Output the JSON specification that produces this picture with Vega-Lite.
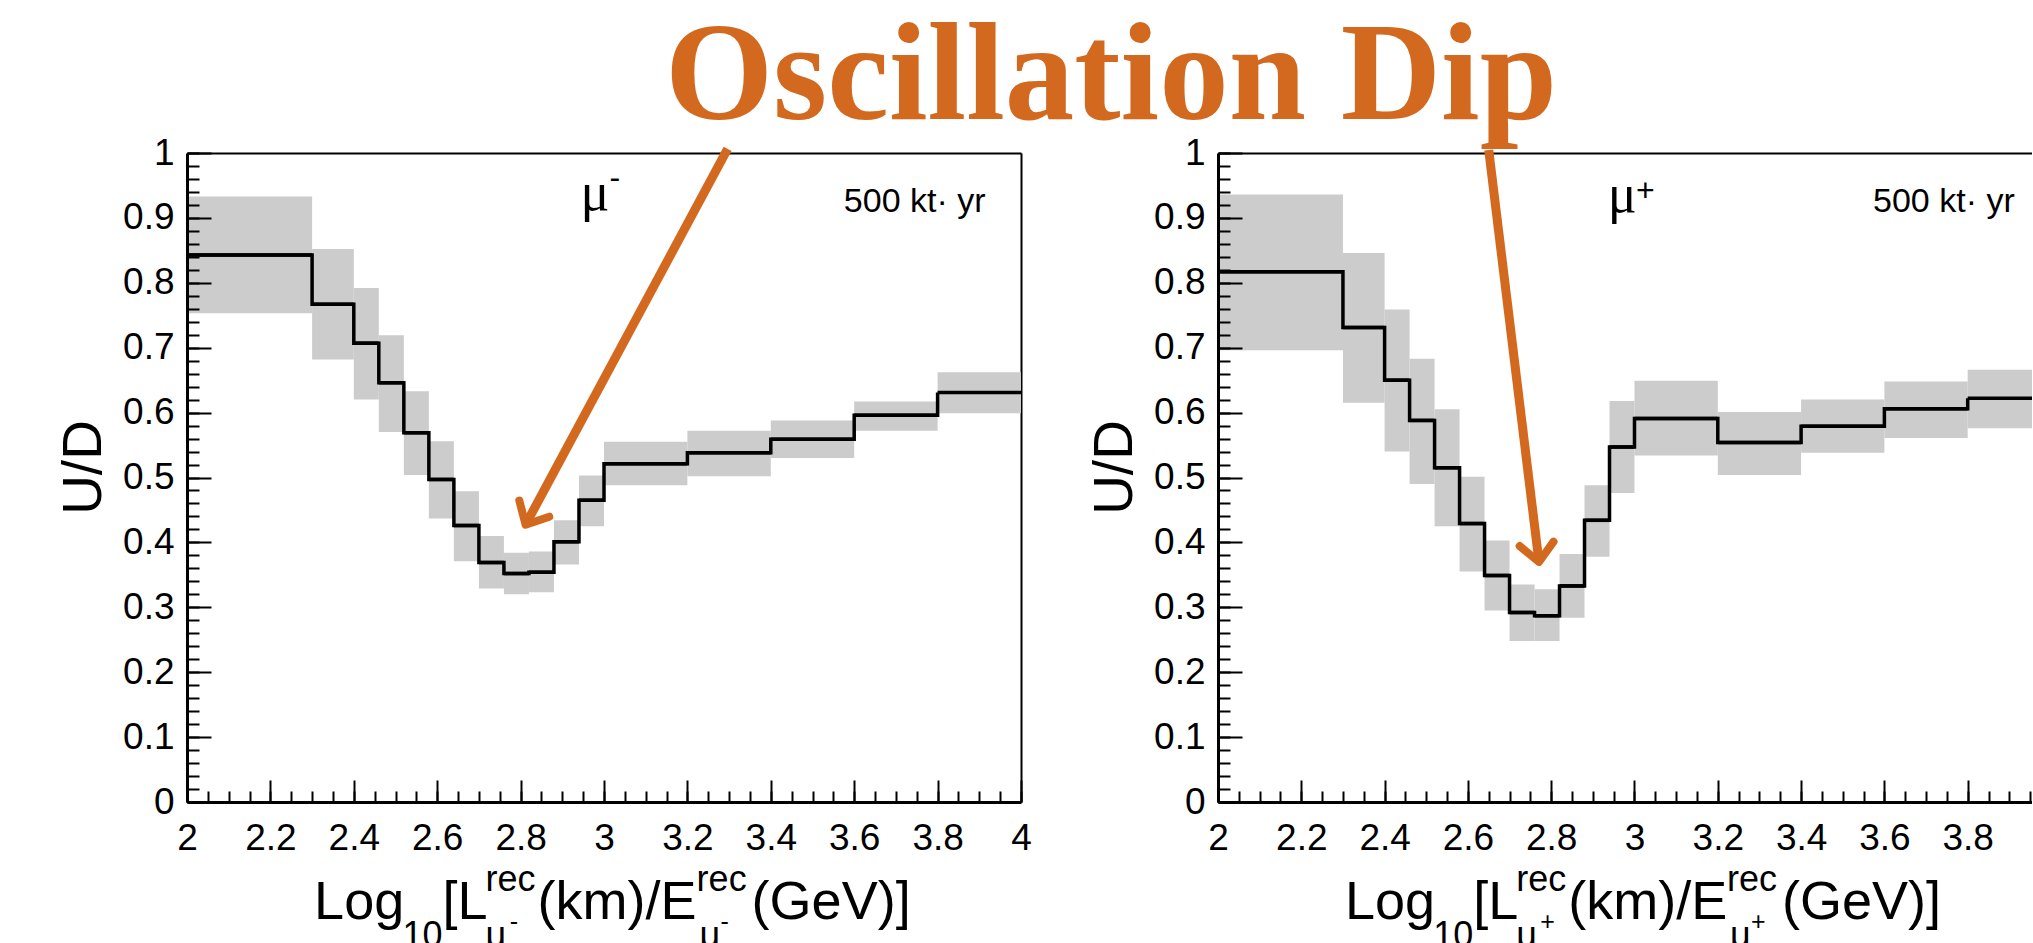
{
  "$schema": "https://vega.github.io/schema/vega-lite/v6.json",
  "usermeta": {"embedOptions": {"actions": false}},
  "background": "white",
  "autosize": {"type": "pad"},
  "padding": {"left": 56, "top": 8, "right": 0, "bottom": 0},
  "title": {
    "text": "Oscillation Dip",
    "font": "Liberation Serif",
    "fontSize": 139,
    "fontWeight": "bold",
    "color": "#D2691E",
    "anchor": "start",
    "frame": "group",
    "baseline": "alphabetic",
    "offset": -124,
    "dx": 478
  },
  "spacing": 197,
  "bounds": "flush",
  "config": {
    "view": {"stroke": null},
    "axis": {"grid": false},
    "text": {"font": "Liberation Sans", "color": "black"}
  },
  "datasets": {
    "minus": [
      {"x0": 2.0, "x1": 2.3, "v": 0.843, "lo": 0.753, "hi": 0.933},
      {"x0": 2.3, "x1": 2.4, "v": 0.767, "lo": 0.682, "hi": 0.852},
      {"x0": 2.4, "x1": 2.46, "v": 0.707, "lo": 0.620, "hi": 0.792},
      {"x0": 2.46, "x1": 2.52, "v": 0.646, "lo": 0.570, "hi": 0.719},
      {"x0": 2.52, "x1": 2.58, "v": 0.569, "lo": 0.504, "hi": 0.633},
      {"x0": 2.58, "x1": 2.64, "v": 0.497, "lo": 0.437, "hi": 0.556},
      {"x0": 2.64, "x1": 2.70, "v": 0.426, "lo": 0.371, "hi": 0.479},
      {"x0": 2.70, "x1": 2.76, "v": 0.369, "lo": 0.329, "hi": 0.410},
      {"x0": 2.76, "x1": 2.82, "v": 0.352, "lo": 0.320, "hi": 0.384},
      {"x0": 2.82, "x1": 2.88, "v": 0.354, "lo": 0.323, "hi": 0.386},
      {"x0": 2.88, "x1": 2.94, "v": 0.401, "lo": 0.366, "hi": 0.434},
      {"x0": 2.94, "x1": 3.0, "v": 0.465, "lo": 0.425, "hi": 0.503},
      {"x0": 3.0, "x1": 3.2, "v": 0.521, "lo": 0.488, "hi": 0.555},
      {"x0": 3.2, "x1": 3.4, "v": 0.538, "lo": 0.502, "hi": 0.572},
      {"x0": 3.4, "x1": 3.6, "v": 0.559, "lo": 0.530, "hi": 0.588},
      {"x0": 3.6, "x1": 3.8, "v": 0.596, "lo": 0.572, "hi": 0.617},
      {"x0": 3.8, "x1": 4.0, "v": 0.631, "lo": 0.599, "hi": 0.662}
    ],
    "plus": [
      {"x0": 2.0, "x1": 2.3, "v": 0.817, "lo": 0.696, "hi": 0.936},
      {"x0": 2.3, "x1": 2.4, "v": 0.731, "lo": 0.615, "hi": 0.846},
      {"x0": 2.4, "x1": 2.46, "v": 0.650, "lo": 0.540, "hi": 0.759},
      {"x0": 2.46, "x1": 2.52, "v": 0.588, "lo": 0.490, "hi": 0.683},
      {"x0": 2.52, "x1": 2.58, "v": 0.515, "lo": 0.425, "hi": 0.605},
      {"x0": 2.58, "x1": 2.64, "v": 0.429, "lo": 0.355, "hi": 0.501},
      {"x0": 2.64, "x1": 2.70, "v": 0.349, "lo": 0.295, "hi": 0.403},
      {"x0": 2.70, "x1": 2.76, "v": 0.292, "lo": 0.248, "hi": 0.335},
      {"x0": 2.76, "x1": 2.82, "v": 0.287, "lo": 0.248, "hi": 0.328},
      {"x0": 2.82, "x1": 2.88, "v": 0.333, "lo": 0.284, "hi": 0.382},
      {"x0": 2.88, "x1": 2.94, "v": 0.434, "lo": 0.378, "hi": 0.488},
      {"x0": 2.94, "x1": 3.0, "v": 0.547, "lo": 0.476, "hi": 0.618},
      {"x0": 3.0, "x1": 3.2, "v": 0.591, "lo": 0.534, "hi": 0.649},
      {"x0": 3.2, "x1": 3.4, "v": 0.554, "lo": 0.504, "hi": 0.601},
      {"x0": 3.4, "x1": 3.6, "v": 0.579, "lo": 0.538, "hi": 0.620},
      {"x0": 3.6, "x1": 3.8, "v": 0.606, "lo": 0.561, "hi": 0.648},
      {"x0": 3.8, "x1": 4.0, "v": 0.622, "lo": 0.576, "hi": 0.666}
    ],
    "arrowMinus": [{"xs": 3.2964, "ys": 1.0062, "xe": 2.812, "ye": 0.4273}],
    "arrowPlus": [{"xs": 2.650, "ys": 1.0046, "xe": 2.7707, "ye": 0.3698}],
    "muMinus": [{"x": 2.9439, "y": 0.912, "t": "μ"}],
    "supMinus": [{"x": 3.0134, "y": 0.9615, "t": "-"}],
    "muPlus": [{"x": 2.9357, "y": 0.909, "t": "μ"}],
    "supPlus": [{"x": 3.0038, "y": 0.9415, "t": "+"}],
    "expMinus": [{"x": 3.915, "y": 0.909, "t": "500 kt· yr"}],
    "expPlus": [{"x": 3.913, "y": 0.909, "t": "500 kt· yr"}],
    "xtMain": [
      {"x": 2.3048, "y": -0.1803, "t": "Log"},
      {"x": 2.6129, "y": -0.1803, "t": "["},
      {"x": 2.6489, "y": -0.1803, "t": "L"},
      {"x": 2.8408, "y": -0.1803, "t": "(km)/E"},
      {"x": 3.3540, "y": -0.1803, "t": "(GeV)]"}
    ],
    "xtSmall": [
      {"x": 2.5170, "y": -0.2234, "t": "10"},
      {"x": 2.7161, "y": -0.1371, "t": "rec"},
      {"x": 2.7161, "y": -0.2234, "t": "μ"},
      {"x": 3.2221, "y": -0.1371, "t": "rec"},
      {"x": 3.2293, "y": -0.2234, "t": "μ"}
    ],
    "xtTinyMinus": [
      {"x": 2.7737, "y": -0.1849, "t": "-"},
      {"x": 3.2796, "y": -0.1849, "t": "-"}
    ],
    "xtTinyPlus": [
      {"x": 2.7737, "y": -0.1849, "t": "+"},
      {"x": 3.2796, "y": -0.1849, "t": "+"}
    ]
  },
  "hconcat": [
    {
      "width": 834,
      "height": 649,
      "resolve": {"axis": {"x": "independent", "y": "independent"}},
      "layer": [
        {
          "data": {"name": "minus"},
          "mark": {"type": "rect", "fill": "#cccccc", "strokeWidth": 0},
          "encoding": {
            "x": {"field": "x0", "type": "quantitative", "scale": {"domain": [2, 4], "nice": false, "zero": false},
              "axis": {"orient": "bottom", "values": [2, 2.2, 2.4, 2.6, 2.8, 3, 3.2, 3.4, 3.6, 3.8, 4], "labelExpr": "'' + datum.value", "tickSize": -22, "tickWidth": 2, "tickColor": "black", "domain": true, "domainColor": "black", "domainWidth": 3, "labelFont": "Liberation Sans", "labelFontSize": 37, "labelColor": "black", "labelPadding": 40, "labelFlush": false, "labelOverlap": false, "labelBound": false, "grid": false, "title": null, "zindex": 1}},
            "x2": {"field": "x1"},
            "y": {"field": "lo", "type": "quantitative", "scale": {"domain": [0, 1], "nice": false, "zero": false},
              "axis": {"orient": "left", "values": [0, 0.1, 0.2, 0.3, 0.4, 0.5, 0.6, 0.7, 0.8, 0.9, 1], "labelExpr": "'' + datum.value", "tickSize": -24, "tickWidth": 2, "tickColor": "black", "domain": true, "domainColor": "black", "domainWidth": 3, "labelFont": "Liberation Sans", "labelFontSize": 37, "labelColor": "black", "labelPadding": 37, "labelFlush": false, "labelOverlap": false, "labelBound": false, "grid": false, "title": "U/D", "titleFont": "Liberation Sans", "titleFontSize": 55, "titleFontWeight": "normal", "titleColor": "black", "titlePadding": 10, "titleY": 314, "zindex": 1}},
            "y2": {"field": "hi"}
          }
        },
        {
          "data": {"name": "minus"},
          "mark": {"type": "rule", "color": "black", "strokeWidth": 3.5},
          "encoding": {
            "x": {"field": "x0", "type": "quantitative",
              "axis": {"orient": "bottom", "values": [2, 2.05, 2.1, 2.15, 2.2, 2.25, 2.3, 2.35, 2.4, 2.45, 2.5, 2.55, 2.6, 2.65, 2.7, 2.75, 2.8, 2.85, 2.9, 2.95, 3, 3.05, 3.1, 3.15, 3.2, 3.25, 3.3, 3.35, 3.4, 3.45, 3.5, 3.55, 3.6, 3.65, 3.7, 3.75, 3.8, 3.85, 3.9, 3.95, 4], "tickSize": -11, "tickWidth": 2, "tickColor": "black", "labels": false, "domain": false, "grid": false, "title": null, "zindex": 1}},
            "x2": {"field": "x1"},
            "y": {"field": "v", "type": "quantitative",
              "axis": {"orient": "left", "values": [0, 0.02, 0.04, 0.06, 0.08, 0.1, 0.12, 0.14, 0.16, 0.18, 0.2, 0.22, 0.24, 0.26, 0.28, 0.3, 0.32, 0.34, 0.36, 0.38, 0.4, 0.42, 0.44, 0.46, 0.48, 0.5, 0.52, 0.54, 0.56, 0.58, 0.6, 0.62, 0.64, 0.66, 0.68, 0.7, 0.72, 0.74, 0.76, 0.78, 0.8, 0.82, 0.84, 0.86, 0.88, 0.9, 0.92, 0.94, 0.96, 0.98, 1], "tickSize": -12, "tickWidth": 2, "tickColor": "black", "labels": false, "domain": false, "grid": false, "title": null, "zindex": 1}}
          }
        },
        {
          "data": {"name": "minus"},
          "mark": {"type": "line", "interpolate": "step-after", "color": "black", "strokeWidth": 3.5},
          "encoding": {
            "x": {"field": "x0", "type": "quantitative",
              "axis": {"orient": "top", "ticks": false, "labels": false, "domain": true, "domainColor": "black", "domainWidth": 2, "grid": false, "title": null}},
            "y": {"field": "v", "type": "quantitative",
              "axis": {"orient": "right", "ticks": false, "labels": false, "domain": true, "domainColor": "black", "domainWidth": 2, "grid": false, "title": null}}
          }
        },
        {
          "data": {"name": "arrowMinus"},
          "mark": {"type": "rule", "color": "#D2691E", "strokeWidth": 9},
          "encoding": {
            "x": {"field": "xs", "type": "quantitative", "axis": null},
            "y": {"field": "ys", "type": "quantitative", "axis": null},
            "x2": {"field": "xe"},
            "y2": {"field": "ye"}
          }
        },
        {
          "data": {"name": "arrowMinus"},
          "mark": {"type": "point", "shape": "M -0.682 -0.731 L 0 0 L 0.682 -0.731", "filled": false, "stroke": "#D2691E", "strokeWidth": 8, "strokeCap": "round", "strokeJoin": "round", "size": 2500, "angle": 28.4, "opacity": 1},
          "encoding": {
            "x": {"field": "xe", "type": "quantitative", "axis": null},
            "y": {"field": "ye", "type": "quantitative", "axis": null}
          }
        },
        {
          "data": {"name": "muMinus"},
          "mark": {"type": "text", "font": "Liberation Serif", "fontSize": 54, "align": "left", "baseline": "alphabetic", "color": "black"},
          "encoding": {
            "x": {"field": "x", "type": "quantitative", "axis": null},
            "y": {"field": "y", "type": "quantitative", "axis": null},
            "text": {"field": "t"}
          }
        },
        {
          "data": {"name": "supMinus"},
          "mark": {"type": "text", "font": "Liberation Sans", "fontSize": 32, "align": "left", "baseline": "middle", "color": "black"},
          "encoding": {
            "x": {"field": "x", "type": "quantitative", "axis": null},
            "y": {"field": "y", "type": "quantitative", "axis": null},
            "text": {"field": "t"}
          }
        },
        {
          "data": {"name": "expMinus"},
          "mark": {"type": "text", "font": "Liberation Sans", "fontSize": 34, "align": "right", "baseline": "alphabetic", "color": "black"},
          "encoding": {
            "x": {"field": "x", "type": "quantitative", "axis": null},
            "y": {"field": "y", "type": "quantitative", "axis": null},
            "text": {"field": "t"}
          }
        },
        {
          "data": {"name": "xtMain"},
          "mark": {"type": "text", "font": "Liberation Sans", "fontSize": 54, "align": "left", "baseline": "alphabetic", "color": "black"},
          "encoding": {
            "x": {"field": "x", "type": "quantitative", "axis": null},
            "y": {"field": "y", "type": "quantitative", "axis": null},
            "text": {"field": "t"}
          }
        },
        {
          "data": {"name": "xtSmall"},
          "mark": {"type": "text", "font": "Liberation Sans", "fontSize": 36, "align": "left", "baseline": "alphabetic", "color": "black"},
          "encoding": {
            "x": {"field": "x", "type": "quantitative", "axis": null},
            "y": {"field": "y", "type": "quantitative", "axis": null},
            "text": {"field": "t"}
          }
        },
        {
          "data": {"name": "xtTinyMinus"},
          "mark": {"type": "text", "font": "Liberation Sans", "fontSize": 25, "align": "left", "baseline": "middle", "color": "black"},
          "encoding": {
            "x": {"field": "x", "type": "quantitative", "axis": null},
            "y": {"field": "y", "type": "quantitative", "axis": null},
            "text": {"field": "t"}
          }
        }
      ]
    },
    {
      "width": 814,
      "height": 649,
      "resolve": {"axis": {"x": "independent", "y": "independent"}},
      "layer": [
        {
          "data": {"name": "plus"},
          "mark": {"type": "rect", "fill": "#cccccc", "strokeWidth": 0, "clip": true},
          "encoding": {
            "x": {"field": "x0", "type": "quantitative", "scale": {"domain": [2, 3.9544], "nice": false, "zero": false},
              "axis": {"orient": "bottom", "values": [2, 2.2, 2.4, 2.6, 2.8, 3, 3.2, 3.4, 3.6, 3.8], "labelExpr": "'' + datum.value", "tickSize": -22, "tickWidth": 2, "tickColor": "black", "domain": true, "domainColor": "black", "domainWidth": 3, "labelFont": "Liberation Sans", "labelFontSize": 37, "labelColor": "black", "labelPadding": 40, "labelFlush": false, "labelOverlap": false, "labelBound": false, "grid": false, "title": null, "zindex": 1}},
            "x2": {"field": "x1"},
            "y": {"field": "lo", "type": "quantitative", "scale": {"domain": [0, 1], "nice": false, "zero": false},
              "axis": {"orient": "left", "values": [0, 0.1, 0.2, 0.3, 0.4, 0.5, 0.6, 0.7, 0.8, 0.9, 1], "labelExpr": "'' + datum.value", "tickSize": -24, "tickWidth": 2, "tickColor": "black", "domain": true, "domainColor": "black", "domainWidth": 3, "labelFont": "Liberation Sans", "labelFontSize": 37, "labelColor": "black", "labelPadding": 37, "labelFlush": false, "labelOverlap": false, "labelBound": false, "grid": false, "title": "U/D", "titleFont": "Liberation Sans", "titleFontSize": 55, "titleFontWeight": "normal", "titleColor": "black", "titlePadding": 10, "titleY": 314, "zindex": 1}},
            "y2": {"field": "hi"}
          }
        },
        {
          "data": {"name": "plus"},
          "mark": {"type": "rule", "color": "black", "strokeWidth": 3.5, "clip": true},
          "encoding": {
            "x": {"field": "x0", "type": "quantitative",
              "axis": {"orient": "bottom", "values": [2, 2.05, 2.1, 2.15, 2.2, 2.25, 2.3, 2.35, 2.4, 2.45, 2.5, 2.55, 2.6, 2.65, 2.7, 2.75, 2.8, 2.85, 2.9, 2.95, 3, 3.05, 3.1, 3.15, 3.2, 3.25, 3.3, 3.35, 3.4, 3.45, 3.5, 3.55, 3.6, 3.65, 3.7, 3.75, 3.8, 3.85, 3.9, 3.95], "tickSize": -11, "tickWidth": 2, "tickColor": "black", "labels": false, "domain": false, "grid": false, "title": null, "zindex": 1}},
            "x2": {"field": "x1"},
            "y": {"field": "v", "type": "quantitative",
              "axis": {"orient": "left", "values": [0, 0.02, 0.04, 0.06, 0.08, 0.1, 0.12, 0.14, 0.16, 0.18, 0.2, 0.22, 0.24, 0.26, 0.28, 0.3, 0.32, 0.34, 0.36, 0.38, 0.4, 0.42, 0.44, 0.46, 0.48, 0.5, 0.52, 0.54, 0.56, 0.58, 0.6, 0.62, 0.64, 0.66, 0.68, 0.7, 0.72, 0.74, 0.76, 0.78, 0.8, 0.82, 0.84, 0.86, 0.88, 0.9, 0.92, 0.94, 0.96, 0.98, 1], "tickSize": -12, "tickWidth": 2, "tickColor": "black", "labels": false, "domain": false, "grid": false, "title": null, "zindex": 1}}
          }
        },
        {
          "data": {"name": "plus"},
          "mark": {"type": "line", "interpolate": "step-after", "color": "black", "strokeWidth": 3.5, "clip": true},
          "encoding": {
            "x": {"field": "x0", "type": "quantitative",
              "axis": {"orient": "top", "ticks": false, "labels": false, "domain": true, "domainColor": "black", "domainWidth": 2, "grid": false, "title": null}},
            "y": {"field": "v", "type": "quantitative", "axis": null}
          }
        },
        {
          "data": {"name": "arrowPlus"},
          "mark": {"type": "rule", "color": "#D2691E", "strokeWidth": 9},
          "encoding": {
            "x": {"field": "xs", "type": "quantitative", "axis": null},
            "y": {"field": "ys", "type": "quantitative", "axis": null},
            "x2": {"field": "xe"},
            "y2": {"field": "ye"}
          }
        },
        {
          "data": {"name": "arrowPlus"},
          "mark": {"type": "point", "shape": "M -0.682 -0.731 L 0 0 L 0.682 -0.731", "filled": false, "stroke": "#D2691E", "strokeWidth": 8, "strokeCap": "round", "strokeJoin": "round", "size": 2500, "angle": 352.6, "opacity": 1},
          "encoding": {
            "x": {"field": "xe", "type": "quantitative", "axis": null},
            "y": {"field": "ye", "type": "quantitative", "axis": null}
          }
        },
        {
          "data": {"name": "muPlus"},
          "mark": {"type": "text", "font": "Liberation Serif", "fontSize": 54, "align": "left", "baseline": "alphabetic", "color": "black"},
          "encoding": {
            "x": {"field": "x", "type": "quantitative", "axis": null},
            "y": {"field": "y", "type": "quantitative", "axis": null},
            "text": {"field": "t"}
          }
        },
        {
          "data": {"name": "supPlus"},
          "mark": {"type": "text", "font": "Liberation Sans", "fontSize": 32, "align": "left", "baseline": "middle", "color": "black"},
          "encoding": {
            "x": {"field": "x", "type": "quantitative", "axis": null},
            "y": {"field": "y", "type": "quantitative", "axis": null},
            "text": {"field": "t"}
          }
        },
        {
          "data": {"name": "expPlus"},
          "mark": {"type": "text", "font": "Liberation Sans", "fontSize": 34, "align": "right", "baseline": "alphabetic", "color": "black"},
          "encoding": {
            "x": {"field": "x", "type": "quantitative", "axis": null},
            "y": {"field": "y", "type": "quantitative", "axis": null},
            "text": {"field": "t"}
          }
        },
        {
          "data": {"name": "xtMain"},
          "mark": {"type": "text", "font": "Liberation Sans", "fontSize": 54, "align": "left", "baseline": "alphabetic", "color": "black"},
          "encoding": {
            "x": {"field": "x", "type": "quantitative", "axis": null},
            "y": {"field": "y", "type": "quantitative", "axis": null},
            "text": {"field": "t"}
          }
        },
        {
          "data": {"name": "xtSmall"},
          "mark": {"type": "text", "font": "Liberation Sans", "fontSize": 36, "align": "left", "baseline": "alphabetic", "color": "black"},
          "encoding": {
            "x": {"field": "x", "type": "quantitative", "axis": null},
            "y": {"field": "y", "type": "quantitative", "axis": null},
            "text": {"field": "t"}
          }
        },
        {
          "data": {"name": "xtTinyPlus"},
          "mark": {"type": "text", "font": "Liberation Sans", "fontSize": 25, "align": "left", "baseline": "middle", "color": "black"},
          "encoding": {
            "x": {"field": "x", "type": "quantitative", "axis": null},
            "y": {"field": "y", "type": "quantitative", "axis": null},
            "text": {"field": "t"}
          }
        }
      ]
    }
  ]
}
